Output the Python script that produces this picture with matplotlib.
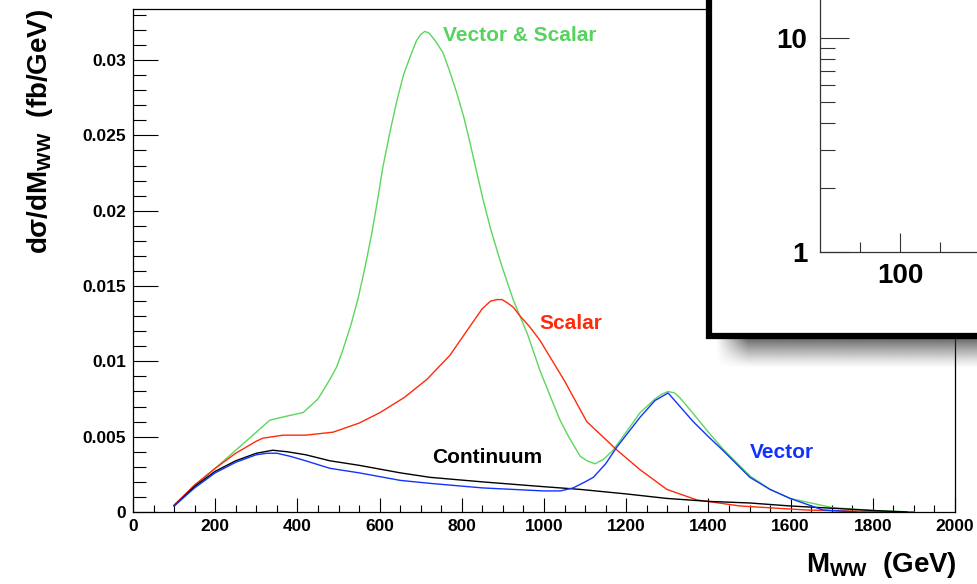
import numpy as np
import matplotlib
matplotlib.use("Agg")
import matplotlib.pyplot as plt
from matplotlib.patches import Rectangle
from matplotlib.ticker import MultipleLocator, FixedLocator, NullFormatter, LogLocator

plt.rcParams['font.family'] = ['Liberation Sans', 'DejaVu Sans']
plt.rcParams['font.weight'] = 'bold'
plt.rcParams['mathtext.fontset'] = 'custom'
plt.rcParams['mathtext.rm'] = 'Liberation Sans:bold'
plt.rcParams['mathtext.bf'] = 'Liberation Sans:bold'
plt.rcParams['mathtext.it'] = 'Liberation Sans:bold'

# ---------------- data ----------------
vs_x = [100, 150, 200, 250, 300, 333, 380, 414, 450, 479, 495, 510, 530, 547, 565, 581,
        595, 608, 625, 642, 658, 674, 690, 700, 710, 720, 735, 754, 770, 788, 805, 820,
        836, 852, 870, 893, 910, 925, 940, 960, 975, 990, 1015, 1039, 1060, 1088, 1105,
        1124, 1145, 1168, 1200, 1234, 1270, 1285, 1302, 1318, 1330, 1355, 1400, 1435,
        1501, 1550, 1599, 1700, 1800, 1900]
vs_y = [0.00046, 0.0017, 0.0029, 0.0041, 0.0053, 0.0061, 0.0064, 0.0066, 0.0075, 0.0088,
        0.0096, 0.0107, 0.0124, 0.0141, 0.0163, 0.0185, 0.0207, 0.0229, 0.0252, 0.0273,
        0.0290, 0.0302, 0.0313, 0.0317, 0.0319, 0.0318, 0.0313, 0.0305, 0.0293, 0.0278,
        0.0262, 0.0245, 0.0226, 0.0207, 0.0188, 0.0167, 0.0153, 0.0141, 0.0131, 0.0118,
        0.0106, 0.0094, 0.0077, 0.0061, 0.0050, 0.0037, 0.0034, 0.0032, 0.0035, 0.0041,
        0.0053, 0.0066, 0.0075, 0.0078, 0.0080, 0.0079, 0.0076, 0.0068, 0.0053, 0.0042,
        0.0024, 0.0015, 0.0009, 0.0003, 0.0001, 0.0]

sc_x = [100, 150, 200, 250, 300, 316, 365, 420, 487, 550, 601, 660, 715, 771, 832, 850,
        870, 886, 898, 910, 925, 942, 965, 990, 1050, 1104, 1178, 1234, 1299, 1372, 1477,
        1640, 1800, 1900]
sc_y = [0.00046, 0.0018, 0.0029, 0.0039, 0.0047, 0.0049, 0.0051, 0.0051, 0.0053, 0.0059,
        0.0066, 0.0076, 0.0088, 0.0104, 0.0128, 0.0135, 0.0140, 0.0141, 0.0141, 0.0139,
        0.0136, 0.0130, 0.0123, 0.0114, 0.0087, 0.0060, 0.0041, 0.0028, 0.0015, 0.0008,
        0.0004, 0.00013, 0.00003, 0.0]

co_x = [100, 150, 200, 250, 300, 340, 375, 420, 479, 550, 650, 723, 850, 990, 1088, 1200,
        1299, 1404, 1500, 1599, 1700, 1800, 1883]
co_y = [0.00040, 0.0017, 0.0027, 0.0034, 0.0039, 0.0041, 0.0040, 0.0038, 0.0034, 0.0031,
        0.0026, 0.0023, 0.0020, 0.0017, 0.0015, 0.0012, 0.0009, 0.0007, 0.0006, 0.0004,
        0.00025, 0.0001, 0.0]

ve_x = [100, 150, 200, 250, 300, 326, 350, 382, 420, 479, 550, 650, 723, 850, 998, 1040,
        1071, 1100, 1120, 1150, 1177, 1234, 1270, 1302, 1363, 1400, 1435, 1501, 1550, 1599,
        1679, 1760]
ve_y = [0.00040, 0.0016, 0.0026, 0.0033, 0.0038, 0.0039, 0.0039, 0.0037, 0.0034, 0.0029,
        0.0026, 0.0021, 0.0019, 0.0016, 0.0014, 0.0014, 0.0016, 0.0020, 0.0023, 0.0032,
        0.0043, 0.0063, 0.0074, 0.0079, 0.0060, 0.0050, 0.0041, 0.0023, 0.0015, 0.0009,
        0.00013, 0.0]

x_ticks = [0, 200, 400, 600, 800, 1000, 1200, 1400, 1600, 1800, 2000]
y_ticks = [0, 0.005, 0.01, 0.015, 0.02, 0.025, 0.03]
y_ticklabels = ["0", "0.005", "0.01", "0.015", "0.02", "0.025", "0.03"]

GREEN = '#5cd65c'
RED = '#ff2a0a'
BLUE = '#1233ff'
GTXT = '#55d35e'

W, H = 977, 584
fig = plt.figure(figsize=(W / 100, H / 100), dpi=100)


def fr(x0, y0_top, x1, y1_top):
    """pixel box (top-left origin) -> figure fraction rect"""
    return [x0 / W, 1 - y1_top / H, (x1 - x0) / W, (y1_top - y0_top) / H]


ax = fig.add_axes(fr(133, 9.3, 955, 512), zorder=0)
ax.plot(vs_x, vs_y, color=GREEN, lw=1.0)
ax.plot(sc_x, sc_y, color=RED, lw=1.0)
ax.plot(co_x, co_y, color='black', lw=1.0)
ax.plot(ve_x, ve_y, color=BLUE, lw=1.0)
ax.set_xlim(0, 2000)
ax.set_ylim(0, 0.03337)
ax.set_xticks(x_ticks)
ax.set_xticklabels([str(v) for v in x_ticks])
ax.xaxis.set_minor_locator(MultipleLocator(50))
ax.set_yticks(y_ticks)
ax.set_yticklabels(y_ticklabels)
ax.yaxis.set_minor_locator(MultipleLocator(0.001))
ax.tick_params(axis='both', which='both', direction='in', top=False, right=False,
               labelsize=12.5, width=0.8)
ax.tick_params(axis='x', which='major', length=10, pad=5)
ax.tick_params(axis='x', which='minor', length=5)
ax.tick_params(axis='y', which='major', length=18, pad=5)
ax.tick_params(axis='y', which='minor', length=9)
for lab in ax.get_xticklabels() + ax.get_yticklabels():
    lab.set_fontweight('bold')
for sp in ax.spines.values():
    sp.set_linewidth(0.9)

ax.text(754, 0.0316, "Vector & Scalar", color=GTXT, fontsize=15, fontweight='bold',
        va='center', ha='left')
ax.text(990, 0.01254, "Scalar", color=RED, fontsize=15, fontweight='bold',
        va='center', ha='left')
ax.text(727, 0.00365, "Continuum", color='black', fontsize=15, fontweight='bold',
        va='center', ha='left')
ax.text(1501, 0.00392, "Vector", color=BLUE, fontsize=15, fontweight='bold',
        va='center', ha='left')

fig.text(40 / W, 1 - 9 / H, r"d$\sigma$/dM$_{\mathrm{WW}}$  (fb/GeV)", rotation=90,
         ha='center', va='top', fontsize=20, fontweight='bold')
fig.text(957 / W, 1 - 565 / H, r"M$_{\mathrm{WW}}$  (GeV)", ha='right', va='center',
         fontsize=20, fontweight='bold')

# ---------------- shadow of the overlapping pane ----------------
sx0, sx1, sy0, sy1 = 712, 977, 338, 372
sh = fig.add_axes(fr(sx0, sy0, sx1, sy1), zorder=0.5)
ny, nx = 80, 400
yy = np.linspace(0, 1, ny)[:, None]
xx = np.linspace(sx0, sx1, nx)[None, :]
ay = np.clip(1 - (yy * (sy1 - sy0)) / 30.0, 0, 1) ** 1.2 * 0.75
axf = np.clip((xx - 716) / 32.0, 0, 1)
alpha = ay * axf
img = np.zeros((ny, nx, 4))
img[..., 0:3] = 0.2
img[..., 3] = alpha
sh.imshow(img, aspect='auto', extent=(0, 1, 1, 0), interpolation='bilinear')
sh.set_xlim(0, 1)
sh.set_ylim(1, 0)
sh.axis('off')

# ---------------- overlapping pane frame ----------------
frame = Rectangle((709 / W, 1 - 336 / H), (1100 - 709) / W, 1.0,
                  transform=fig.transFigure, facecolor='white', edgecolor='black',
                  linewidth=4.5, zorder=2)
fig.add_artist(frame)

# ---------------- inset axes (partially visible) ----------------
dec = 214.0
inset_w = 400
inset_h = 500
ia = fig.add_axes(fr(820, 252 - inset_h, 820 + inset_w, 252), zorder=3)
ia.set_facecolor('none')
ia.set_yscale('log')
ia.set_ylim(1, 10 ** (inset_h / dec))
ia.set_xlim(0, 500)
ia.set_xticks([100])
ia.set_xticklabels(["100"])
ia.xaxis.set_minor_locator(FixedLocator([50, 150]))
ia.yaxis.set_major_locator(FixedLocator([1, 10]))
ia.set_yticklabels(["1", "10"])
ia.yaxis.set_minor_locator(LogLocator(base=10, subs=np.arange(2, 10)))
ia.yaxis.set_minor_formatter(NullFormatter())
ia.tick_params(axis='both', which='both', direction='in', top=False, right=False,
               labelsize=20, width=0.8, colors='#333333', labelcolor='black')
ia.tick_params(axis='y', which='major', length=21, pad=9)
ia.tick_params(axis='y', which='minor', length=11)
ia.tick_params(axis='x', which='major', length=14, pad=8)
ia.tick_params(axis='x', which='minor', length=7)
for lab in ia.get_xticklabels() + ia.get_yticklabels():
    lab.set_fontweight('bold')
for k, sp in ia.spines.items():
    if k in ('left', 'bottom'):
        sp.set_linewidth(0.9)
        sp.set_color('#333333')
    else:
        sp.set_visible(False)

fig.savefig("out.png", dpi=100)
